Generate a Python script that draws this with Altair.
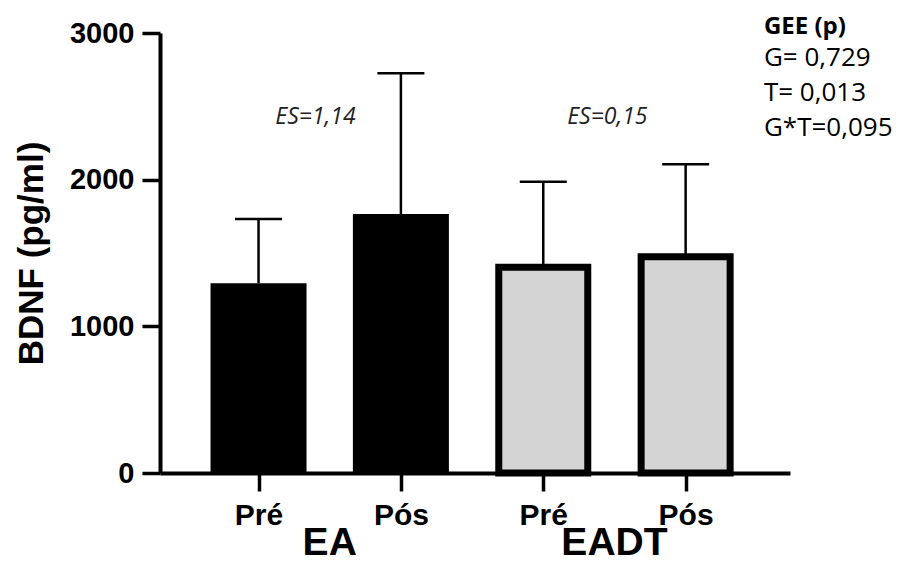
import altair as alt
import pandas as pd

# ---- data ----
groups = ["EA", "EA", "EADT", "EADT"]
times = ["Pré", "Pós", "Pré", "Pós"]
means = [1293, 1766, 1402, 1475]
sds = [439, 959, 584, 630]

es_labels = ["ES=1,14", "ES=0,15"]
gee_title = "GEE (p)"
gee_lines = ["G= 0,729", "T= 0,013", "G*T=0,095"]
group_names = ["EA", "EADT"]
y_ticks = [0, 1000, 2000, 3000]

df = pd.DataFrame({
    "pos": list(range(len(times))),
    "group": groups,
    "time": times,
    "mean": means,
    "sd": sds,
})
df["top"] = df["mean"] + df["sd"]

# annotation anchors (data units)
ES_X = [0.4, 2.45]
ES_Y = 2380
GEE_X = 3.55
GEE_TITLE_Y = 2993
GEE_LINES_Y = 2777
GROUP_X = [0.5, 2.5]
GROUP_Y = -560

es_df = pd.DataFrame({"pos": ES_X, "val": [ES_Y] * 2, "label": es_labels})
gee_t_df = pd.DataFrame({"pos": [GEE_X], "val": [GEE_TITLE_Y], "label": [gee_title]})
gee_l_df = pd.DataFrame({"pos": [GEE_X], "val": [GEE_LINES_Y], "label": ["\n".join(gee_lines)]})
grp_df = pd.DataFrame({"pos": GROUP_X, "val": [GROUP_Y] * 2, "label": group_names})

ARIAL = "Liberation Sans"
CAL = "Open Sans"

xscale = alt.Scale(domain=[-0.657, 3.698], nice=False, zero=False)
yscale = alt.Scale(domain=[0, 3000], nice=False, zero=True)

label_expr = "[" + ",".join("'" + t + "'" for t in times) + "][datum.value]"

x_axis = alt.Axis(
    values=[0, 1, 2, 3], labelExpr=label_expr, title=None, grid=False,
    tickSize=18, tickWidth=3.5, tickColor="black",
    domainWidth=4, domainColor="black",
    labelFont=ARIAL, labelFontSize=30, labelFontWeight="bold", labelColor="black",
    labelPadding=9, labelFlush=False, labelOverlap=False,
)
y_axis = alt.Axis(
    values=y_ticks, format="d", title="BDNF (pg/ml)", grid=False,
    tickSize=18, tickWidth=3.5, tickColor="black",
    domainWidth=4, domainColor="black",
    labelFont=ARIAL, labelFontSize=29, labelFontWeight="bold", labelColor="black",
    labelPadding=8,
    titleFont=ARIAL, titleFontSize=35, titleFontWeight="bold", titleColor="black",
    titleX=-118, titleY=220, titleAngle=270, titleBaseline="alphabetic", titleAlign="center",
)


def X(field="pos"):
    return alt.X(f"{field}:Q", scale=xscale, axis=x_axis)


def Y(field):
    return alt.Y(f"{field}:Q", scale=yscale, axis=y_axis)


base = alt.Chart(df)

err = base.mark_rule(color="black", strokeWidth=2.5).encode(
    x=X(), y=Y("mean"), y2="top:Q"
)
caps = base.mark_rule(color="black", strokeWidth=2.5, xOffset=-23.5, x2Offset=23.5).encode(
    x=X(), x2="pos:Q", y=Y("top")
)
black_bars = base.transform_filter(alt.datum.group == "EA").mark_bar(
    size=96, color="black", strokeWidth=0
).encode(x=X(), y=Y("mean"))
gray_bars = base.transform_filter(alt.datum.group == "EADT").mark_bar(
    size=89, fill="#d4d4d4", stroke="black", strokeWidth=7
).encode(x=X(), y=Y("mean"))

es_text = alt.Chart(es_df).mark_text(
    font=CAL, fontSize=23, fontStyle="italic", color="#222222",
    align="center", baseline="alphabetic"
).encode(x=X(), y=Y("val"), text="label:N")

gee_t = alt.Chart(gee_t_df).mark_text(
    font=CAL, fontSize=24, fontWeight="bold", color="black",
    align="left", baseline="alphabetic"
).encode(x=X(), y=Y("val"), text="label:N")

gee_l = alt.Chart(gee_l_df).mark_text(
    font=CAL, fontSize=26, color="black", lineBreak="\n", lineHeight=35,
    align="left", baseline="alphabetic"
).encode(x=X(), y=Y("val"), text="label:N")

grp = alt.Chart(grp_df).mark_text(
    font=ARIAL, fontSize=39, fontWeight="bold", color="black",
    align="center", baseline="alphabetic"
).encode(x=X(), y=Y("val"), text="label:N")

chart = alt.layer(err, caps, black_bars, gray_bars, es_text, gee_t, gee_l, grp).properties(
    width=630, height=440,
    autosize=alt.AutoSizeParams(type="none"),
    padding={"left": 152, "top": 25, "right": 110, "bottom": 89},
    background="white",
).configure_view(strokeWidth=0, stroke=None)

chart.save("out.html", embed_options={"renderer": "svg", "actions": False})
